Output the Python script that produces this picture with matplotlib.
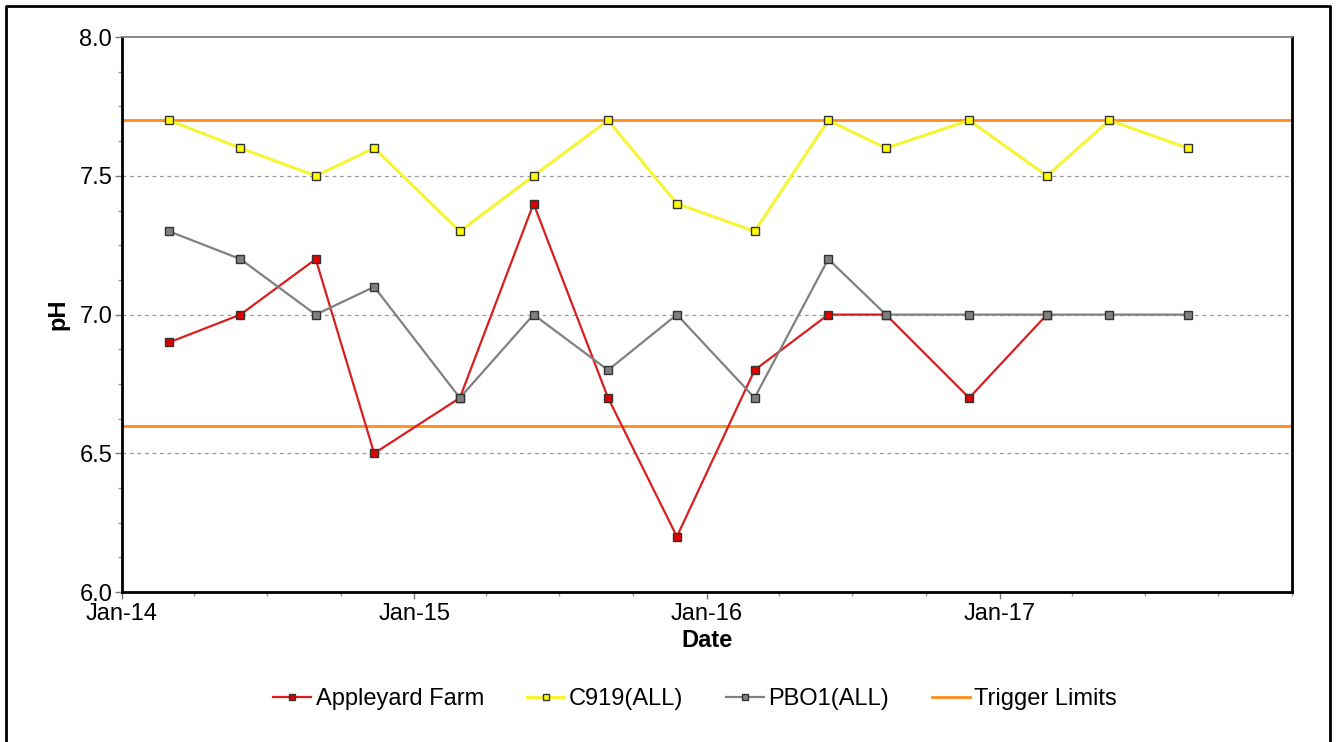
import datetime

import matplotlib
matplotlib.use("Agg")
import matplotlib.pyplot as plt
import matplotlib.dates as mdates
from matplotlib.lines import Line2D
from matplotlib.ticker import MultipleLocator, FormatStrFormatter

plt.rcParams['font.family'] = ['Liberation Sans', 'DejaVu Sans']

# sample dates (shared by all sites)
dates = [
    datetime.date(2014, 3, 1), datetime.date(2014, 5, 29), datetime.date(2014, 8, 31),
    datetime.date(2014, 11, 12), datetime.date(2015, 2, 27), datetime.date(2015, 5, 30),
    datetime.date(2015, 8, 31), datetime.date(2015, 11, 25), datetime.date(2016, 3, 1),
    datetime.date(2016, 6, 1), datetime.date(2016, 8, 12), datetime.date(2016, 11, 24),
    datetime.date(2017, 3, 1), datetime.date(2017, 5, 18), datetime.date(2017, 8, 24),
]

appleyard_ph = [6.9, 7.0, 7.2, 6.5, 6.7, 7.4, 6.7, 6.2, 6.8, 7.0, 7.0, 6.7, 7.0]
c919_ph = [7.7, 7.6, 7.5, 7.6, 7.3, 7.5, 7.7, 7.4, 7.3, 7.7, 7.6, 7.7, 7.5, 7.7, 7.6]
pbo1_ph = [7.3, 7.2, 7.0, 7.1, 6.7, 7.0, 6.8, 7.0, 6.7, 7.2, 7.0, 7.0, 7.0, 7.0, 7.0]

trigger_limits = [6.6, 7.7]
year_ticks = [datetime.date(y, 1, 1) for y in (2014, 2015, 2016, 2017)]

fig = plt.figure(figsize=(13.37, 7.42), dpi=100)
ax = fig.add_axes([0.0912, 0.202, 0.8751, 0.748])

orange = '#FF8C1A'
for lim in trigger_limits:
    ax.axhline(lim, color=orange, lw=2, zorder=2)

ax.plot(dates[:len(appleyard_ph)], appleyard_ph, color='#D81E1E', lw=1.6,
        marker='s', ms=6, mfc='#E00000', mec='#333333', mew=1, zorder=3)
ax.plot(dates, c919_ph, color='#F5F534', lw=2.2,
        marker='s', ms=6, mfc='#FFFF00', mec='#333333', mew=1, zorder=4)
ax.plot(dates, pbo1_ph, color='#808080', lw=1.6,
        marker='s', ms=6, mfc='#808080', mec='#333333', mew=1, zorder=3)

ax.set_xlim(datetime.date(2014, 1, 1), datetime.date(2018, 1, 1))
ax.set_ylim(6.0, 8.0)

ax.set_xticks(year_ticks)
ax.xaxis.set_major_formatter(mdates.DateFormatter('%b-%y'))
ax.xaxis.set_minor_locator(mdates.MonthLocator(bymonth=[1, 4, 7, 10]))
ax.yaxis.set_major_locator(MultipleLocator(0.5))
ax.yaxis.set_minor_locator(MultipleLocator(0.125))
ax.yaxis.set_major_formatter(FormatStrFormatter('%.1f'))

for y in [6.5, 7.0, 7.5]:
    ax.axhline(y, color='#999999', lw=0.9, ls=(0, (3, 3)), zorder=1)

ax.tick_params(axis='both', which='major', labelsize=17, length=5, color='#777777', width=1)
ax.tick_params(axis='both', which='minor', length=3, color='#999999', width=1)
ax.tick_params(axis='x', pad=3)
ax.tick_params(axis='y', pad=2)

ax.spines['top'].set_color('#808080')
ax.spines['top'].set_linewidth(1.3)
for side in ['left', 'bottom', 'right']:
    ax.spines[side].set_color('black')
    ax.spines[side].set_linewidth(2)

ax.set_xlabel('Date', fontsize=17, fontweight='bold', labelpad=3)
ax.set_ylabel('pH', fontsize=17, fontweight='bold', labelpad=7)

handles = [
    Line2D([], [], color='#D81E1E', lw=1.6, marker='s', ms=5, mfc='#E00000', mec='#333333'),
    Line2D([], [], color='#F5F534', lw=2.2, marker='s', ms=5, mfc='#FFFF00', mec='#333333'),
    Line2D([], [], color='#808080', lw=1.6, marker='s', ms=5, mfc='#808080', mec='#333333'),
    Line2D([], [], color=orange, lw=2),
]
labels = ['Appleyard Farm', 'C919(ALL)', 'PBO1(ALL)', 'Trigger Limits']
fig.legend(handles, labels, loc='center', bbox_to_anchor=(0.52, 0.058), ncol=4,
           frameon=False, fontsize=17, handlelength=1.6, handletextpad=0.2,
           columnspacing=1.8)

# outer frame
x0, x1, y1 = 6 / 1337, 1330 / 1337, 1 - 6 / 742
fig.add_artist(Line2D([x0, x0, x1, x1], [0, y1, y1, 0], transform=fig.transFigure,
                      color='black', lw=2))

fig.savefig('out.png', dpi=100)
